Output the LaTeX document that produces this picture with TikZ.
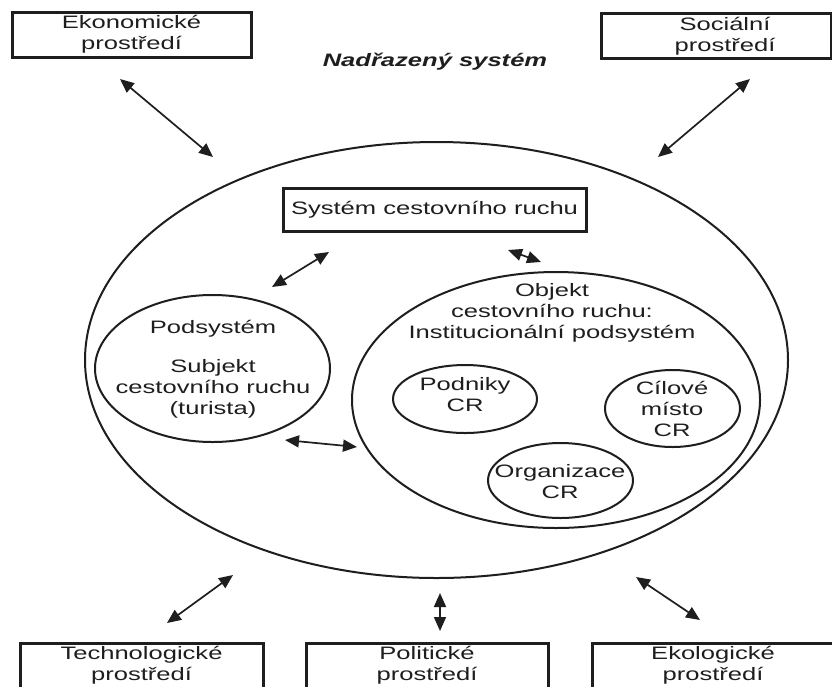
\documentclass[tikz,border=0pt]{standalone}
\usepackage{fontspec}
\setmainfont{Liberation Sans}[FakeStretch=1.42]
\usetikzlibrary{shapes.geometric,arrows.meta}
\definecolor{ink}{HTML}{1E1E1E}
\tikzset{
  envbox/.style={draw=ink, line width=3pt, minimum width=240pt, minimum height=45pt, align=center, inner sep=0pt, text=ink, font=\fontsize{18}{21}\selectfont},
  oval/.style={draw=ink, ellipse, line width=2pt, inner sep=0pt},
  lbl/.style={align=center, text=ink, inner sep=0pt, font=\fontsize{18}{21}\selectfont},
  link/.style={draw=ink, line width=1.7pt, {Triangle[length=14pt,width=12pt]}-{Triangle[length=14pt,width=12pt]}}
}
\begin{document}
\begin{tikzpicture}[x=1pt, y=-1pt]
\useasboundingbox (0,0) rectangle (832,686);
\clip (0,0) rectangle (832,686);
\fill[white] (0,0) rectangle (832,686);

% environment boxes
\node[envbox, minimum width=239pt] (eko) at (131.5,34.5) {Ekonomické\\prostředí};
\node[envbox, minimum width=230pt] (soc) at (716,35.5) {};
\node[lbl] (soct) at (725,36) {Sociální\\prostředí};
\node[envbox, minimum width=243pt] (tech) at (141.5,665.5) {Technologické\\prostředí};
\node[envbox, minimum width=242pt] (pol) at (427,665.5) {Politické\\prostředí};
\node[envbox, minimum width=242pt] (ekol) at (713,665.5) {Ekologické\\prostředí};

% title
\node[lbl, font=\fontsize{18}{21}\selectfont\bfseries\itshape] (title) at (435,62) {Nadřazený systém};

% big system ellipse
\node[oval, minimum width=703pt, minimum height=436pt] (nad) at (436.5,360) {};

% system box
\node[envbox, minimum width=303pt, minimum height=43pt] (scr) at (434.5,209.5) {Systém cestovního ruchu};

% subsystem: subject
\node[oval, minimum width=235pt, minimum height=147pt] (sub) at (212.5,368.5) {};
\node[lbl] (subt1) at (213,329) {Podsystém};
\node[lbl] (subt2) at (213,389) {Subjekt\\cestovního ruchu\\(turista)};

% subsystem: object
\node[oval, minimum width=408pt, minimum height=256pt] (obj) at (556,400) {};
\node[lbl] (objt) at (552,313) {Objekt\\cestovního ruchu:\\Institucionální podsystém};

\node[oval, minimum width=144pt, minimum height=68pt] (pod) at (465,399) {};
\node[lbl] (podt) at (465,395) {Podniky\\CR};
\node[oval, minimum width=135pt, minimum height=77pt] (cil) at (672.5,408.5) {};
\node[lbl] (cilt) at (672,409) {Cílové\\místo\\CR};
\node[oval, minimum width=145pt, minimum height=75pt] (org) at (560.5,480.5) {};
\node[lbl] (orgt) at (560,482) {Organizace\\CR};

% arrow end points
\coordinate (a1s) at (120,79);  \coordinate (a1e) at (213,157);
\coordinate (a2s) at (750,79);  \coordinate (a2e) at (658,157);
\coordinate (a3s) at (329,252); \coordinate (a3e) at (272,287);
\coordinate (a4s) at (508,250); \coordinate (a4e) at (541,262);
\coordinate (a5s) at (285,440); \coordinate (a5e) at (357,447);
\coordinate (a6s) at (233,575); \coordinate (a6e) at (167,623);
\coordinate (a7s) at (440,593); \coordinate (a7e) at (440,631);
\coordinate (a8s) at (636,577); \coordinate (a8e) at (700,620);

\draw[link] (a1s) -- (a1e);
\draw[link] (a2s) -- (a2e);
\draw[link] (a3s) -- (a3e);
\draw[link] (a4s) -- (a4e);
\draw[link] (a5s) -- (a5e);
\draw[link] (a6s) -- (a6e);
\draw[link] (a7s) -- (a7e);
\draw[link] (a8s) -- (a8e);
\end{tikzpicture}
\end{document}
